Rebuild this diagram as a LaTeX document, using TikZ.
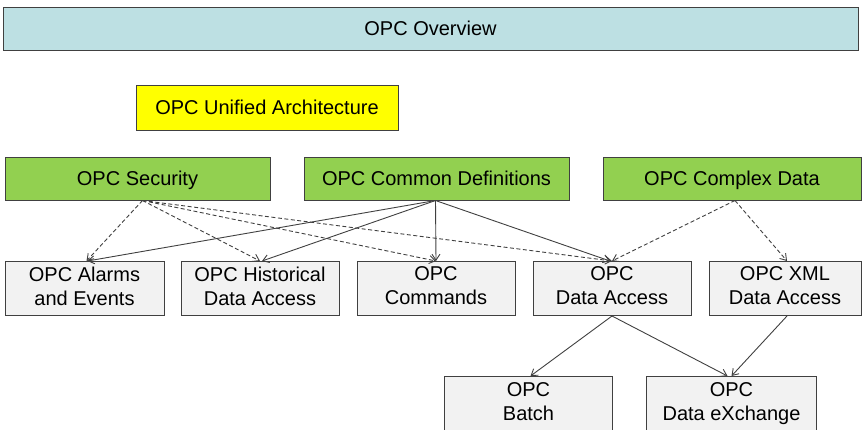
\documentclass[tikz,border=0pt]{standalone}
\usepackage{fontspec}
\setmainfont{Liberation Sans}
\usetikzlibrary{arrows.meta}
\definecolor{ovwblue}{RGB}{189,224,227}
\definecolor{uayellow}{RGB}{255,255,0}
\definecolor{partgreen}{RGB}{146,208,80}
\definecolor{specgray}{RGB}{242,242,242}
\definecolor{linegray}{RGB}{64,64,64}
\newcommand{\boxstrut}{\rule[-5.2pt]{0pt}{24pt}}
\begin{document}
\begin{tikzpicture}
        [x=1pt, y=-1pt, inner sep=0pt,
        box/.style={rectangle, draw=linegray, line width=1pt, align=center,
            execute at begin node=\boxstrut, execute at end node=\boxstrut,
            font=\fontsize{20}{24}\selectfont},
        ovwbox/.style={box, fill=ovwblue, minimum height=43pt},
        uabox/.style={box, fill=uayellow, minimum height=45pt},
        partbox/.style={box, fill=partgreen, minimum height=43pt},
        specbox/.style={box, fill=specgray, minimum height=54pt},
        uses/.style={-{Straight Barb[length=6pt, width=8pt]}, line width=0.9pt, linegray},
        maybe/.style={uses, dashed, dash pattern=on 4pt off 2.5pt}]

        \clip (0,0) rectangle (862,429);

        % top rows
        \node[ovwbox, minimum width=855pt] (ovw) at (430.5,28.5) {OPC Overview};
        \node[uabox, minimum width=262pt] (ua) at (267,107.5) {OPC Unified Architecture};

        \node[partbox, minimum width=265pt] (sec) at (137.5,178.5) {OPC Security};
        \node[partbox, minimum width=265pt] (cdef) at (436.5,178.5) {OPC Common Definitions};
        \node[partbox, minimum width=258pt] (cplx) at (732,178.5) {OPC Complex Data};

        % specifications
        \node[specbox, minimum width=159pt] (alarm) at (84.5,288.5) {OPC Alarms\\and Events};
        \node[specbox, minimum width=158pt] (hist) at (260,288.5) {OPC Historical\\Data Access};
        \node[specbox, minimum width=158pt] (cmd) at (436,288.5) {OPC\\Commands};
        \node[specbox, minimum width=158pt] (da) at (612,288.5) {OPC\\Data Access};
        \node[specbox, minimum width=152pt] (xml) at (785,288.5) {OPC XML\\Data Access};

        \node[specbox, minimum width=168pt, minimum height=55pt] (batch) at (528.5,404) {OPC\\Batch};
        \node[specbox, minimum width=170pt, minimum height=55pt] (dx) at (731.5,404) {OPC\\Data eXchange};

        % security (dashed)
        \coordinate (S) at ([xshift=5pt]sec.south);
        \draw[maybe] (S) -- ([xshift=2pt]alarm.north);
        \draw[maybe] (S) -- (hist.north);
        \draw[maybe] (S) -- (cmd.north);
        \draw[maybe] (S) -- (da.north);

        % common definitions (solid)
        \coordinate (C) at ([xshift=-1pt]cdef.south);
        \draw[uses] (C) -- ([xshift=3pt]alarm.north);
        \draw[uses] (C) -- ([xshift=2pt]hist.north);
        \draw[uses] (C) -- (cmd.north);
        \draw[uses] (C) -- ([xshift=-2pt]da.north);

        % complex data (dashed)
        \coordinate (X) at ([xshift=3pt]cplx.south);
        \draw[maybe] (X) -- (da.north);
        \draw[maybe] (X) -- ([xshift=2pt]xml.north);

        % lower level
        \draw[uses] (da.south) -- ([xshift=2pt]batch.north);
        \draw[uses] (da.south) -- ([xshift=-4pt]dx.north);
        \draw[uses] ([xshift=2pt]xml.south) -- (dx.north);
    \end{tikzpicture}
\end{document}
